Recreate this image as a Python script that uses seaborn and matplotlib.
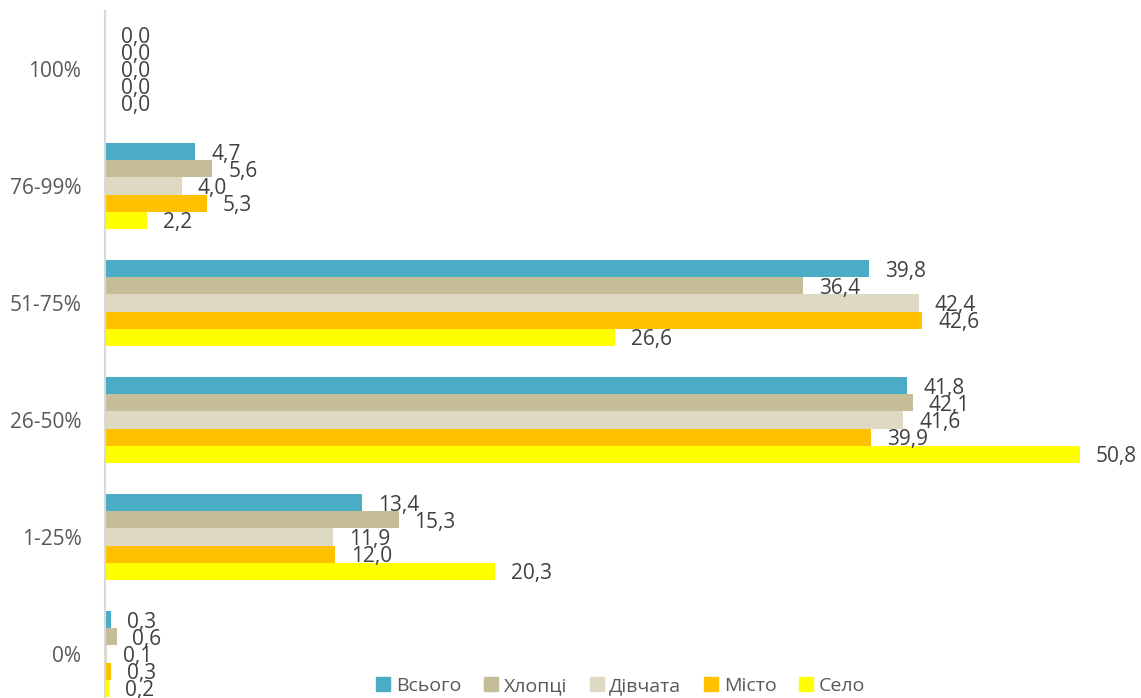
import pandas as pd
import numpy as np
import matplotlib
matplotlib.use("Agg")
import matplotlib.pyplot as plt
import seaborn as sns

categories = ["100%", "76-99%", "51-75%", "26-50%", "1-25%", "0%"]
series = ["Всього", "Хлопці", "Дівчата", "Місто", "Село"]
vsogo = [0.0, 4.7, 39.8, 41.8, 13.4, 0.3]
khloptsi = [0.0, 5.6, 36.4, 42.1, 15.3, 0.6]
divchata = [0.0, 4.0, 42.4, 41.6, 11.9, 0.1]
misto = [0.0, 5.3, 42.6, 39.9, 12.0, 0.3]
selo = [0.0, 2.2, 26.6, 50.8, 20.3, 0.2]
colors = ["#4BACC6", "#C4BD97", "#DDD9C3", "#FFC000", "#FFFF00"]

rows = []
for name, vals in zip(series, [vsogo, khloptsi, divchata, misto, selo]):
    for cat, v in zip(categories, vals):
        rows.append({"cat": cat, "series": name, "value": v})
df = pd.DataFrame(rows)

sns.set_style("white")
plt.rcParams['font.family'] = ['Open Sans', 'DejaVu Sans']

fig = plt.figure(figsize=(11.41, 6.98), dpi=100)
ax = fig.add_axes([105 / 1141, -14.5 / 698, 1017 / 1141, 702 / 698])

sns.barplot(data=df, y="cat", x="value", hue="series", order=categories,
            hue_order=series, palette=colors, orient="h", width=0.73,
            saturation=1, linewidth=0, edgecolor="none", ax=ax, legend=False)

# value labels with a decimal comma, as in the source
for cont in ax.containers:
    labels = [f"{v:.1f}".replace(".", ",") for v in cont.datavalues]
    anns = ax.bar_label(cont, labels=labels, padding=11.5, fontsize=15, color="#404040")
    for a in anns:
        a.xyann = (11.5, -2)

ax.set_xlim(0, 53)
ax.set_ylim(5.5, -0.5)
ax.set_xlabel("")
ax.set_ylabel("")
ax.set_xticks([])
ax.tick_params(axis="y", length=0, pad=17, labelsize=15, labelcolor="#595959")
for s in ["top", "right", "bottom"]:
    ax.spines[s].set_visible(False)
ax.spines["left"].set_color("#D9D9D9")
ax.spines["left"].set_linewidth(1.5)

handles = [plt.Rectangle((0, 0), 1, 1, color=c) for c in colors]
fig.legend(handles, series, loc="center", bbox_to_anchor=(0.544, 0.017),
           ncol=5, frameon=False, fontsize=14, handlelength=0.72,
           handleheight=0.72, handletextpad=0.3, columnspacing=1.15,
           labelcolor="#595959")

fig.savefig("out.png", dpi=100)
